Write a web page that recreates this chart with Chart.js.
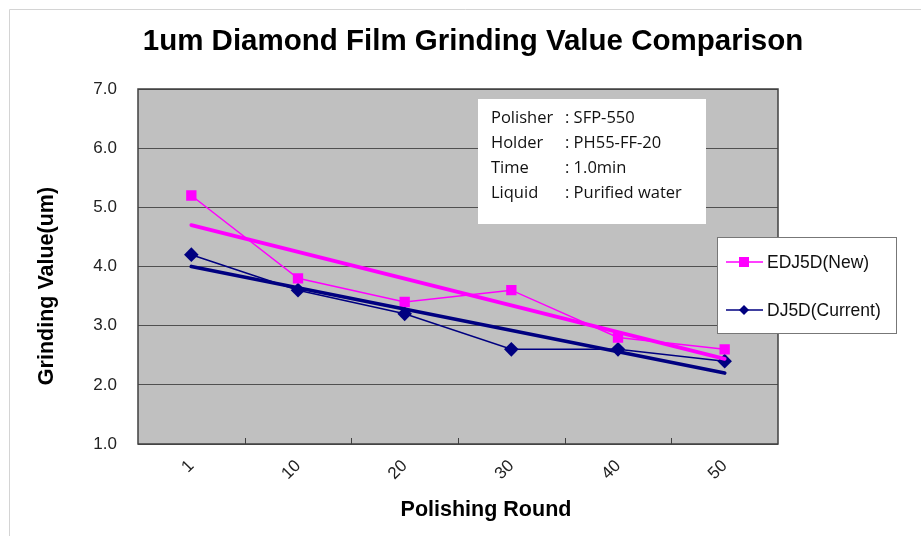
<!DOCTYPE html>
<html>
<head>
<meta charset="utf-8">
<script src="https://cdn.jsdelivr.net/npm/chart.js@4.4.0/dist/chart.umd.min.js"></script>
<style>
  html, body { margin: 0; padding: 0; background: #fff; }
  #wrap { position: relative; width: 921px; height: 536px; }
</style>
</head>
<body>
<div id="wrap"><canvas id="c" width="921" height="536"></canvas></div>
<script>
const categories = ['1', '10', '20', '30', '40', '50'];
const edj5dNew = [5.2, 3.8, 3.4, 3.6, 2.8, 2.6];
const dj5dCurrent = [4.2, 3.6, 3.2, 2.6, 2.6, 2.4];
// trend line endpoints (first and last category)
const edjTrend = [4.7, null, null, null, null, 2.44];
const djTrend = [4.0, null, null, null, null, 2.2];
const yTicks = [1, 2, 3, 4, 5, 6, 7];
const infoLines = [
  ['Polisher', ': SFP-550'],
  ['Holder', ': PH55-FF-20'],
  ['Time', ': 1.0min'],
  ['Liquid', ': Purified water']
];
const seriesNames = ['EDJ5D(New)', 'DJ5D(Current)'];
const chartTitle = '1um Diamond Film Grinding Value Comparison';
const xTitle = 'Polishing Round';
const yTitle = 'Grinding Value(um)';

const MAGENTA = '#FF00FF';
const NAVY = '#000080';
const FONT = '"Liberation Sans", Arial, sans-serif';

const decorPlugin = {
  id: 'decor',
  beforeDraw(chart) {
    const ctx = chart.ctx;
    ctx.save();
    ctx.fillStyle = '#fff';
    ctx.fillRect(0, 0, chart.width, chart.height);
    ctx.strokeStyle = '#d4d4d4';
    ctx.lineWidth = 1;
    ctx.beginPath();
    ctx.moveTo(9.5, chart.height);
    ctx.lineTo(9.5, 9.5);
    ctx.lineTo(chart.width, 9.5);
    ctx.stroke();
    const a = chart.chartArea;
    ctx.fillStyle = '#C0C0C0';
    ctx.fillRect(a.left, a.top, a.right - a.left, a.bottom - a.top);
    ctx.restore();
  },
  afterDatasetsDraw(chart) {
    const ctx = chart.ctx;
    const a = chart.chartArea;
    const xs = chart.scales.x;
    ctx.save();
    ctx.strokeStyle = '#404040';
    ctx.lineWidth = 1.5;
    ctx.strokeRect(a.left, a.top, a.right - a.left, a.bottom - a.top);
    ctx.lineWidth = 1;
    const half = (xs.getPixelForValue(1) - xs.getPixelForValue(0)) / 2;
    for (let i = 0; i < categories.length - 1; i++) {
      const x = Math.round(xs.getPixelForValue(i) + half) + 0.5;
      ctx.beginPath();
      ctx.moveTo(x, a.bottom);
      ctx.lineTo(x, a.bottom - 6);
      ctx.stroke();
    }
    ctx.restore();
  },
  afterDraw(chart) {
    const ctx = chart.ctx;
    ctx.save();
    // title
    ctx.fillStyle = '#000';
    ctx.font = 'bold 29.5px ' + FONT;
    ctx.textAlign = 'center';
    ctx.textBaseline = 'middle';
    ctx.fillText(chartTitle, 473, 42);
    // axis titles
    ctx.font = 'bold 21.5px ' + FONT;
    ctx.fillText(xTitle, 486, 510);
    ctx.save();
    ctx.translate(47, 286);
    ctx.rotate(-Math.PI / 2);
    ctx.fillText(yTitle, 0, 0);
    ctx.restore();
    // info box
    ctx.fillStyle = '#fff';
    ctx.fillRect(478, 99, 228, 125);
    ctx.fillStyle = '#111';
    ctx.font = '16.5px "Open Sans", "Noto Sans", sans-serif';
    ctx.textAlign = 'left';
    infoLines.forEach((ln, i) => {
      const y = 118 + i * 25;
      ctx.fillText(ln[0], 491, y);
      ctx.fillText(ln[1], 565, y);
    });
    // legend box
    ctx.fillStyle = '#fff';
    ctx.fillRect(717, 237, 179, 96);
    ctx.strokeStyle = '#777';
    ctx.lineWidth = 1;
    ctx.strokeRect(717.5, 237.5, 179, 96);
    const items = [
      { name: seriesNames[0], color: MAGENTA, style: 'rect', y: 262 },
      { name: seriesNames[1], color: NAVY, style: 'diamond', y: 310 }
    ];
    ctx.font = '17.5px ' + FONT;
    items.forEach(it => {
      ctx.strokeStyle = it.color;
      ctx.lineWidth = 1.5;
      ctx.beginPath();
      ctx.moveTo(726, it.y);
      ctx.lineTo(763, it.y);
      ctx.stroke();
      ctx.fillStyle = it.color;
      if (it.style === 'rect') {
        ctx.fillRect(739, it.y - 5, 10, 10);
      } else {
        ctx.beginPath();
        ctx.moveTo(744, it.y - 5);
        ctx.lineTo(749, it.y);
        ctx.lineTo(744, it.y + 5);
        ctx.lineTo(739, it.y);
        ctx.closePath();
        ctx.fill();
      }
      ctx.fillStyle = '#111';
      ctx.fillText(it.name, 767, it.y + 1);
    });
    ctx.restore();
  }
};

new Chart(document.getElementById('c'), {
  type: 'line',
  data: {
    labels: categories,
    datasets: [
      {
        label: seriesNames[0],
        data: edj5dNew,
        borderColor: MAGENTA,
        backgroundColor: MAGENTA,
        borderWidth: 1.5,
        pointStyle: 'rect',
        pointRadius: 7.3,
        pointBorderWidth: 0,
        tension: 0,
        order: 3
      },
      {
        label: seriesNames[1],
        data: dj5dCurrent,
        borderColor: NAVY,
        backgroundColor: NAVY,
        borderWidth: 1.5,
        pointStyle: 'rectRot',
        pointRadius: 7.3,
        pointBorderWidth: 0,
        tension: 0,
        order: 4
      },
      {
        label: 'EDJ trend',
        data: edjTrend,
        borderColor: MAGENTA,
        borderWidth: 3.8,
        borderCapStyle: 'round',
        pointRadius: 0,
        spanGaps: true,
        order: 2
      },
      {
        label: 'DJ trend',
        data: djTrend,
        borderColor: NAVY,
        borderWidth: 3.8,
        borderCapStyle: 'round',
        pointRadius: 0,
        spanGaps: true,
        order: 1
      }
    ]
  },
  options: {
    responsive: false,
    animation: false,
    devicePixelRatio: 1,
    layout: { padding: { left: 0, right: 143, top: 89, bottom: 0 } },
    plugins: {
      legend: { display: false },
      tooltip: { enabled: false },
      title: { display: false }
    },
    scales: {
      x: {
        offset: true,
        grid: { display: false, drawTicks: false },
        border: { display: false },
        ticks: {
          color: '#222',
          font: { family: FONT, size: 17 },
          maxRotation: 45,
          minRotation: 45,
          padding: 12
        },
        afterFit(scale) { scale.height = 92; }
      },
      y: {
        min: 1,
        max: 7,
        afterBuildTicks(scale) { scale.ticks = yTicks.map(v => ({ value: v })); },
        grid: { color: '#505050', lineWidth: 1, drawTicks: false },
        border: { display: false },
        ticks: {
          color: '#222',
          font: { family: FONT, size: 17 },
          padding: 21,
          callback: v => Number(v).toFixed(1)
        },
        afterFit(scale) { scale.width = 138; }
      }
    }
  },
  plugins: [decorPlugin]
});
</script>
</body>
</html>
